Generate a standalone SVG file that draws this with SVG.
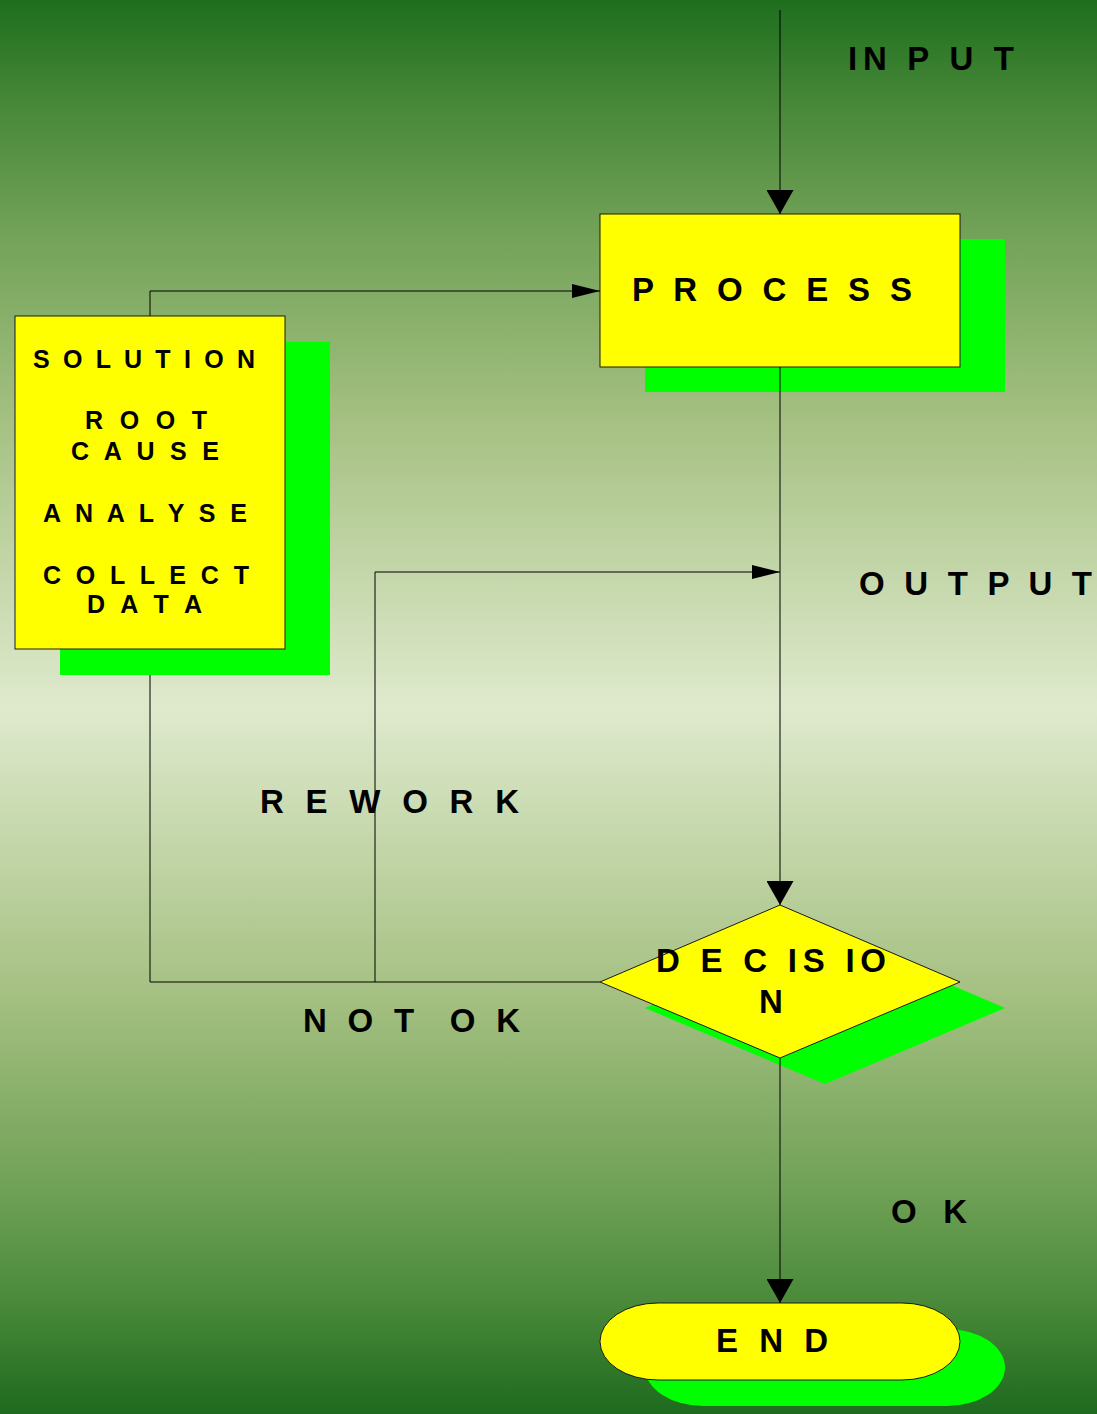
<svg xmlns="http://www.w3.org/2000/svg" width="1097" height="1414" viewBox="0 0 1097 1414">
  <style>
    .shadow { fill: #00ff00; stroke: none; }
    .shape { fill: #ffff00; stroke: #1a1a1a; stroke-width: 1; }
    .lbl { font-family: "Liberation Sans", Arial, sans-serif; font-weight: bold; font-size: 33px; fill: #000; white-space: pre; }
    .sm { font-size: 25px; }
    .conn { fill: none; stroke: #000; stroke-width: 1; }
  </style>
  <defs>
    <linearGradient id="bg" x1="0" y1="0" x2="0" y2="1">
      <stop offset="0" stop-color="#1e6e1e"/>
      <stop offset="0.08" stop-color="#4a8a3a"/>
      <stop offset="0.16" stop-color="#70a156"/>
      <stop offset="0.3" stop-color="#a6c183"/>
      <stop offset="0.5" stop-color="#dfeacd"/>
      <stop offset="0.7" stop-color="#a6c183"/>
      <stop offset="0.84" stop-color="#70a156"/>
      <stop offset="0.92" stop-color="#4a8a3a"/>
      <stop offset="1" stop-color="#1e6a1e"/>
    </linearGradient>
    <marker id="big" markerUnits="userSpaceOnUse" markerWidth="24" markerHeight="27" refX="24" refY="13.5" orient="auto">
      <path d="M0,0 L24,13.5 L0,27 z" fill="#000"/>
    </marker>
    <marker id="small" markerUnits="userSpaceOnUse" markerWidth="28" markerHeight="14" refX="28" refY="7" orient="auto">
      <path d="M0,0 L28,7 L0,14 z" fill="#000"/>
    </marker>
  </defs>

  <rect x="0" y="0" width="1097" height="1414" fill="url(#bg)"/>

  <g id="process">
    <rect class="shadow" x="645" y="239" width="360" height="153"/>
    <rect class="shape" x="600" y="214" width="360" height="153"/>
    <text class="lbl" x="632" y="301" textLength="280" lengthAdjust="spacing" xml:space="preserve">P R O C E S S</text>
  </g>

  <g id="solution">
    <rect class="shadow" x="60" y="342" width="270" height="333"/>
    <rect class="shape" x="15" y="316" width="270" height="333"/>
    <text class="lbl sm" x="33" y="368" textLength="222" lengthAdjust="spacing">S O L U T I O N</text>
    <text class="lbl sm" x="85" y="429" textLength="122" lengthAdjust="spacing">R O O T</text>
    <text class="lbl sm" x="71" y="460" textLength="148" lengthAdjust="spacing">C A U S E</text>
    <text class="lbl sm" x="43" y="522" textLength="204" lengthAdjust="spacing">A N A L Y S E</text>
    <text class="lbl sm" x="43" y="584" textLength="206" lengthAdjust="spacing">C O L L E C T</text>
    <text class="lbl sm" x="87" y="613" textLength="115" lengthAdjust="spacing">D A T A</text>
  </g>

  <g id="decision">
    <polygon class="shadow" points="825,931 1005,1008 825,1084 645,1008"/>
    <polygon class="shape" points="780,905 960,982 780,1058 600,982"/>
    <text class="lbl" x="656" y="972" textLength="230" lengthAdjust="spacing">D E C IS IO</text>
    <text class="lbl" x="759" y="1013">N</text>
  </g>

  <g id="end">
    <rect class="shadow" x="645" y="1329" width="360" height="77" rx="58" ry="38.5"/>
    <rect class="shape" x="600" y="1303" width="360" height="77" rx="58" ry="38.5"/>
    <text class="lbl" x="716" y="1352" textLength="112" lengthAdjust="spacing">E N D</text>
  </g>

  <g id="connectors">
    <line class="conn" x1="780" y1="10" x2="780" y2="214" marker-end="url(#big)"/>
    <line class="conn" x1="780" y1="367" x2="780" y2="905" marker-end="url(#big)"/>
    <line class="conn" x1="780" y1="1058" x2="780" y2="1303" marker-end="url(#big)"/>
    <polyline class="conn" points="150,316 150,291 600,291" marker-end="url(#small)"/>
    <polyline class="conn" points="600,982 150,982 150,675"/>
    <polyline class="conn" points="375,982 375,572 780,572" marker-end="url(#small)"/>
  </g>

  <g id="labels">
    <text class="lbl" x="848" y="70" textLength="166" lengthAdjust="spacing" xml:space="preserve">IN P U T</text>
    <text class="lbl" x="859" y="595" textLength="233" lengthAdjust="spacing">O U T P U T</text>
    <text class="lbl" x="260" y="813" textLength="259" lengthAdjust="spacing">R E W O R K</text>
    <text class="lbl" x="303" y="1032" textLength="217" lengthAdjust="spacing" xml:space="preserve">N O T  O K</text>
    <text class="lbl" x="891" y="1223" textLength="76" lengthAdjust="spacing">O K</text>
  </g>
</svg>
